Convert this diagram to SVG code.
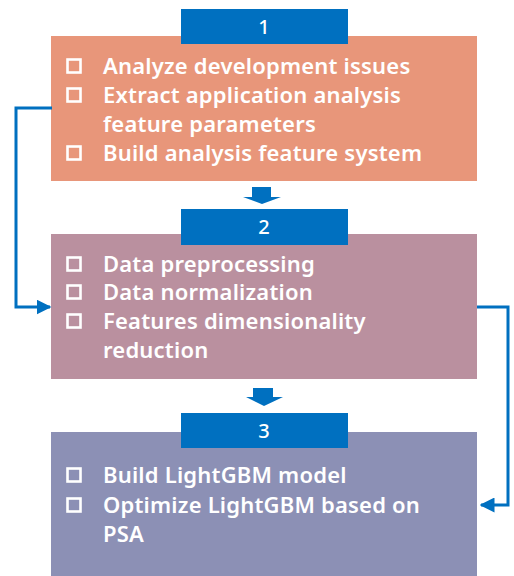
<svg xmlns="http://www.w3.org/2000/svg" width="514" height="576" viewBox="0 0 514 576">
<defs>
<style>
.t{font-family:"Noto Sans","Open Sans",sans-serif;font-size:22px;font-weight:600;fill:#fff;letter-spacing:0.2px}
.n{font-family:"Noto Sans","Open Sans",sans-serif;font-size:20px;font-weight:500;fill:#fff;text-anchor:middle}
.cb{fill:none;stroke:#fff;stroke-width:2.6}
.hd{fill:#0070C0}
.c{fill:none;stroke:#0070C0;stroke-width:3}
</style>
<marker id="ah" markerWidth="5" markerHeight="5" refX="4.5" refY="2.5" orient="auto" markerUnits="strokeWidth">
<path d="M0,0 L5,2.5 L0,5 Z" fill="#0070C0"/>
</marker>
</defs>
<rect width="514" height="576" fill="#fff"/>
<g id="node1">
<rect x="51" y="36" width="426" height="145" fill="#E8967A"/>
<rect class="hd" x="181" y="9" width="167" height="35"/>
<text class="n" x="264" y="34">1</text>
<rect class="cb" x="67.5" y="59.5" width="13" height="13"/>
<text class="t" x="103" y="74">Analyze development issues</text>
<rect class="cb" x="67.5" y="88.5" width="13" height="13"/>
<text class="t" x="103" y="103">Extract application analysis</text>
<text class="t" x="103" y="132">feature parameters</text>
<rect class="cb" x="67.5" y="146.5" width="13" height="13"/>
<text class="t" x="103" y="161">Build analysis feature system</text>
</g>
<g id="node2">
<rect x="51" y="234" width="426" height="145" fill="#BA909F"/>
<rect class="hd" x="181" y="209" width="167" height="36"/>
<text class="n" x="264" y="234">2</text>
<rect class="cb" x="67.5" y="257.5" width="13" height="13"/>
<text class="t" x="103" y="272">Data preprocessing</text>
<rect class="cb" x="67.5" y="285.5" width="13" height="13"/>
<text class="t" x="103" y="300">Data normalization</text>
<rect class="cb" x="67.5" y="314.5" width="13" height="13"/>
<text class="t" x="103" y="329">Features dimensionality</text>
<text class="t" x="103" y="358">reduction</text>
</g>
<g id="node3">
<rect x="51" y="432" width="426" height="150" fill="#8C90B5"/>
<rect class="hd" x="181" y="413" width="167" height="35"/>
<text class="n" x="264" y="438">3</text>
<rect class="cb" x="67.5" y="468.5" width="13" height="13"/>
<text class="t" x="103" y="483">Build LightGBM model</text>
<rect class="cb" x="67.5" y="498.5" width="13" height="13"/>
<text class="t" x="103" y="513">Optimize LightGBM based on</text>
<text class="t" x="103" y="542">PSA</text>
</g>
<g id="connectors">
<path d="M252,187 H271 V197 H281 L262,204 L243,197 H252 Z" fill="#0070C0"/>
<path d="M253,388 H273 V397 H283 L264,406 L246,397 H253 Z" fill="#0070C0"/>
<path class="c" d="M52,108 H16 V307 H50" marker-end="url(#ah)"/>
<path class="c" d="M477,307 H508 V505 H481" marker-end="url(#ah)"/>
</g>
</svg>
